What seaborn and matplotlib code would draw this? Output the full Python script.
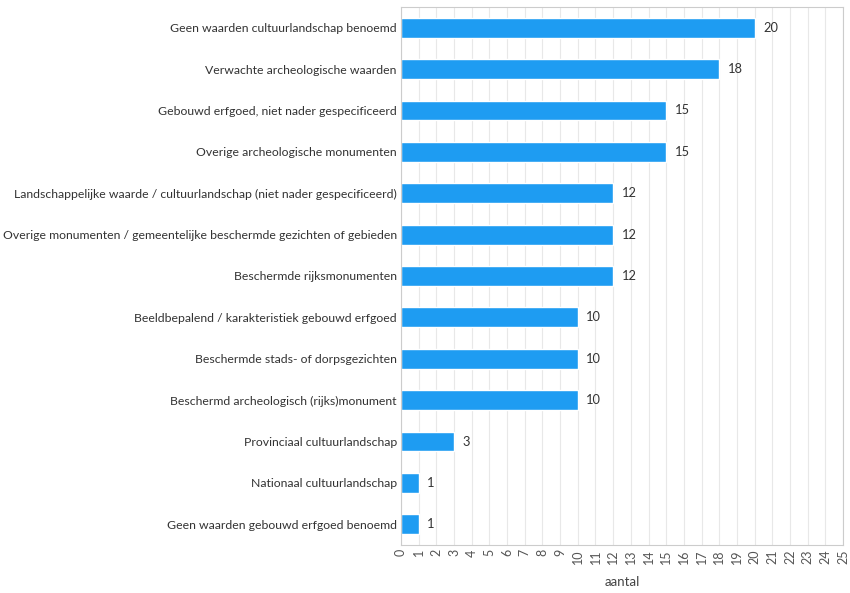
import matplotlib
matplotlib.use("Agg")
import matplotlib.pyplot as plt
import seaborn as sns
import pandas as pd

categories = [
    "Geen waarden cultuurlandschap benoemd",
    "Verwachte archeologische waarden",
    "Gebouwd erfgoed, niet nader gespecificeerd",
    "Overige archeologische monumenten",
    "Landschappelijke waarde / cultuurlandschap (niet nader gespecificeerd)",
    "Overige monumenten / gemeentelijke beschermde gezichten of gebieden",
    "Beschermde rijksmonumenten",
    "Beeldbepalend / karakteristiek gebouwd erfgoed",
    "Beschermde stads- of dorpsgezichten",
    "Beschermd archeologisch (rijks)monument",
    "Provinciaal cultuurlandschap",
    "Nationaal cultuurlandschap",
    "Geen waarden gebouwd erfgoed benoemd",
]
values = [20, 18, 15, 15, 12, 12, 12, 10, 10, 10, 3, 1, 1]
x_ticks = list(range(0, 26))
x_label = "aantal"

sns.set_theme(style="white")
plt.rcParams['font.family'] = ['Lato', 'DejaVu Sans']

df = pd.DataFrame({"cat": categories, "val": values})

fig = plt.figure(figsize=(8.5, 5.93), dpi=100)
ax = fig.add_axes([401/850, 1-545/593, (843-401)/850, (545-7)/593])

sns.barplot(data=df, x="val", y="cat", orient="h", color="#1E9CF2",
            saturation=1, width=0.48, ax=ax)

ax.set_xlim(0, 25)
ax.set_xticks(x_ticks)
ax.set_xticklabels([str(t) for t in x_ticks], rotation=90, fontsize=9, color="#555555")
ax.tick_params(axis="y", labelsize=8.8, colors="#333333", length=0, pad=3)
ax.tick_params(axis="x", length=0, pad=3)
ax.set_ylabel("")
ax.set_xlabel(x_label, fontsize=9.5, color="#444444", labelpad=9)
ax.xaxis.grid(True, color="#e8e8e8", linewidth=0.8)
ax.set_axisbelow(True)
for s in ax.spines.values():
    s.set_color("#cccccc")
    s.set_linewidth(0.8)

for p, v in zip(ax.patches, values):
    y = p.get_y() + p.get_height() / 2
    ax.annotate(str(v), (p.get_width(), y), xytext=(6, 0), textcoords="offset points",
                va="center", ha="left", fontsize=9.3, color="#333333")

fig.savefig("out.png", dpi=100)
